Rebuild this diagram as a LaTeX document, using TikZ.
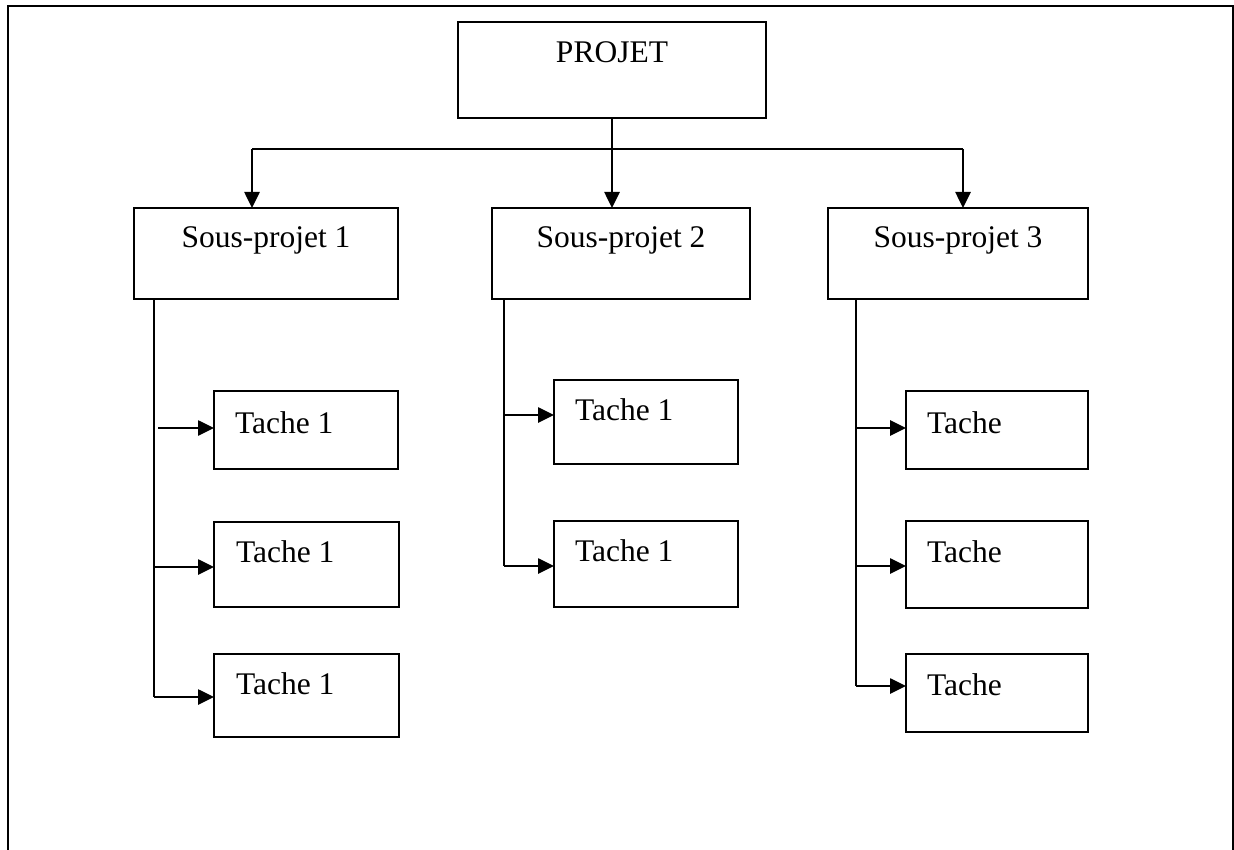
\documentclass[tikz,border=0pt]{standalone}
\usepackage{fontspec}
\setmainfont{Liberation Serif}
\usetikzlibrary{arrows.meta,calc}
\begin{document}
\begin{tikzpicture}[x=1pt,y=-1pt,
  box/.style={draw,line width=2.6pt,inner sep=0pt,outer sep=0pt,rectangle},
  lbl/.style={inner sep=0pt,outer sep=0pt,font=\fontsize{31.5}{36}\selectfont},
  wire/.style={line width=2.6pt},
  arr/.style={line width=2.6pt,-{Triangle[length=16pt,width=15pt]}}]
\useasboundingbox (0,0) rectangle (1234,850);
% frame, open at the bottom
\draw[line width=2.8pt] (8,850) -- (8,6) -- (1233,6) -- (1233,850);

% project
\node[box,minimum width=308pt,minimum height=96pt] (P) at (612,70) {};
% sub-projects
\node[box,minimum width=264pt,minimum height=91pt] (S1) at (266,253.5) {};
\node[box,minimum width=258pt,minimum height=91pt] (S2) at (621,253.5) {};
\node[box,minimum width=260pt,minimum height=91pt] (S3) at (958,253.5) {};
% tasks
\node[box,minimum width=184pt,minimum height=78pt] (T11) at (306,430) {};
\node[box,minimum width=185pt,minimum height=85pt] (T12) at (306.5,564.5) {};
\node[box,minimum width=185pt,minimum height=83pt] (T13) at (306.5,695.5) {};
\node[box,minimum width=184pt,minimum height=84pt] (T21) at (646,422) {};
\node[box,minimum width=184pt,minimum height=86pt] (T22) at (646,564) {};
\node[box,minimum width=182pt,minimum height=78pt] (T31) at (997,430) {};
\node[box,minimum width=182pt,minimum height=87pt] (T32) at (997,564.5) {};
\node[box,minimum width=182pt,minimum height=78pt] (T33) at (997,693) {};

% labels
\node[lbl,anchor=base] (tP) at ($(P.north)+(0,41)$) {PROJET};
\node[lbl,anchor=base] (tS1) at ($(S1.north)+(0,40)$) {Sous-projet 1};
\node[lbl,anchor=base] (tS2) at ($(S2.north)+(0,40)$) {Sous-projet 2};
\node[lbl,anchor=base] (tS3) at ($(S3.north)+(0,40)$) {Sous-projet 3};
\node[lbl,anchor=base west] (tT11) at ($(T11.north west)+(21,42)$) {Tache 1};
\node[lbl,anchor=base west] (tT12) at ($(T12.north west)+(22,40)$) {Tache 1};
\node[lbl,anchor=base west] (tT13) at ($(T13.north west)+(22,40)$) {Tache 1};
\node[lbl,anchor=base west] (tT21) at ($(T21.north west)+(21,40)$) {Tache 1};
\node[lbl,anchor=base west] (tT22) at ($(T22.north west)+(21,40)$) {Tache 1};
\node[lbl,anchor=base west] (tT31) at ($(T31.north west)+(21,42)$) {Tache};
\node[lbl,anchor=base west] (tT32) at ($(T32.north west)+(21,41)$) {Tache};
\node[lbl,anchor=base west] (tT33) at ($(T33.north west)+(21,41)$) {Tache};

% distribution bus below the project
\coordinate (bL) at (252,149);
\coordinate (bR) at (963,149);
\draw[wire] (P.south) -- (P.south |- bL);
\draw[wire] (bL) -- (bR);
\draw[arr] (bL) -- (bL |- S1.north);
\draw[arr] (P.south |- bL) -- (P.south |- S2.north);
\draw[arr] (bR) -- (bR |- S3.north);

% branch of sub-project 1
\coordinate (v1) at (154,697);
\draw[wire] (v1 |- S1.south) -- (v1);
\coordinate (a11) at (158,428);
\coordinate (a12) at (154,567);
\draw[arr] (a11) -- (a11 -| T11.west);
\draw[arr] (a12) -- (a12 -| T12.west);
\draw[arr] (v1) -- (v1 -| T13.west);

% branch of sub-project 2
\coordinate (v2) at (504,566);
\coordinate (a21) at (504,415);
\draw[wire] (v2 |- S2.south) -- (v2);
\draw[arr] (a21) -- (a21 -| T21.west);
\draw[arr] (v2) -- (v2 -| T22.west);

% branch of sub-project 3
\coordinate (v3) at (856,686);
\coordinate (a31) at (856,428);
\coordinate (a32) at (856,566);
\draw[wire] (v3 |- S3.south) -- (v3);
\draw[arr] (a31) -- (a31 -| T31.west);
\draw[arr] (a32) -- (a32 -| T32.west);
\draw[arr] (v3) -- (v3 -| T33.west);
\end{tikzpicture}
\end{document}
